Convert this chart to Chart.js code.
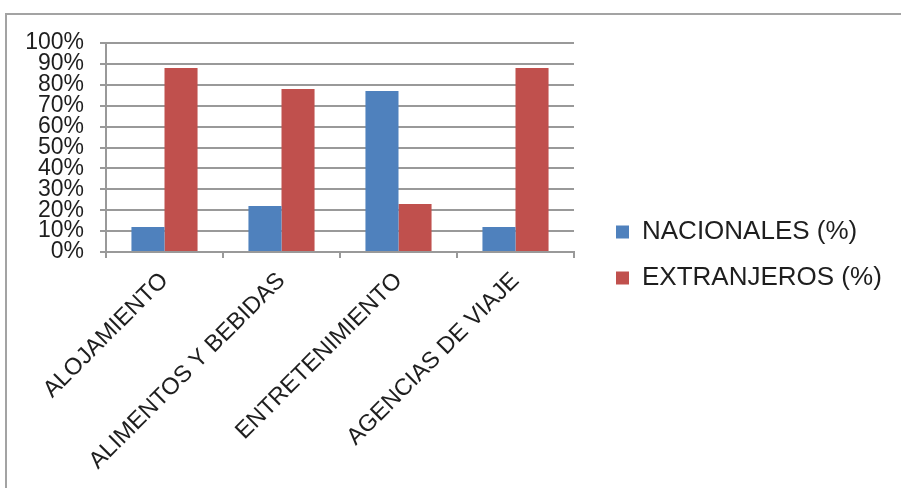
<!DOCTYPE html>
<html>
<head>
<meta charset="utf-8">
<script src="https://cdn.jsdelivr.net/npm/chart.js@4"></script>
<style>
  html, body { margin: 0; padding: 0; background: #ffffff; }
  #wrap { position: relative; width: 901px; height: 488px; overflow: hidden; }
  #frame { position: absolute; left: 5px; top: 13px; width: 910px; height: 500px;
           border-top: 2px solid #a3a3a3; border-left: 2px solid #a3a3a3; pointer-events: none; }
  canvas { position: absolute; left: 0; top: 0; }
</style>
</head>
<body>
<div id="wrap">
  <canvas id="c" width="901" height="488"></canvas>
  <div id="frame"></div>
</div>
<script>
const categories = ["ALOJAMIENTO", "ALIMENTOS Y BEBIDAS", "ENTRETENIMIENTO", "AGENCIAS DE VIAJE"];
const nacionales = [12, 22, 77, 12];
const extranjeros = [88, 78, 23, 88];
const seriesNames = ["NACIONALES (%)", "EXTRANJEROS (%)"];
const yTicks = [0, 10, 20, 30, 40, 50, 60, 70, 80, 90, 100];

const FONT = "'Liberation Sans', Arial, sans-serif";
const GRID = "#999999";
const TEXT = "#1e1e1e";

const legendFix = {
  id: 'legendFix',
  afterInit(chart) {
    const lg = chart.legend;
    const orig = lg.fit.bind(lg);
    lg.fit = function () { orig(); this.width = 327; };
  },
  afterLayout(chart) {
    const lg = chart.legend;
    lg.left = 596;
    lg.top = 199;
  }
};

new Chart(document.getElementById('c'), {
  type: 'bar',
  data: {
    labels: categories,
    datasets: [
      { label: seriesNames[0], data: nacionales, backgroundColor: '#4F81BD',
        categoryPercentage: 0.565, barPercentage: 1.0 },
      { label: seriesNames[1], data: extranjeros, backgroundColor: '#C0504D',
        categoryPercentage: 0.565, barPercentage: 1.0 }
    ]
  },
  options: {
    responsive: false,
    animation: false,
    layout: { padding: { top: 43, left: 0, right: 0, bottom: 0 } },
    plugins: {
      title: { display: false },
      tooltip: { enabled: false },
      legend: {
        position: 'right',
        align: 'start',
        labels: {
          font: { family: FONT, size: 26 },
          color: TEXT,
          boxWidth: 13,
          boxHeight: 13,
          padding: 20
        }
      }
    },
    scales: {
      x: {
        afterFit(s) { s.height = 236; },
        grid: { drawOnChartArea: false, drawTicks: true, tickLength: 6, color: GRID, lineWidth: 2 },
        border: { display: true, color: GRID, width: 2 },
        ticks: {
          maxRotation: 45, minRotation: 45, autoSkip: false,
          font: { family: FONT, size: 23.5 }, color: TEXT,
          labelOffset: 0, padding: 9
        }
      },
      y: {
        min: 0, max: 100,
        afterFit(s) { s.width = 106; },
        afterBuildTicks(s) { s.ticks = yTicks.map(v => ({ value: v })); },
        grid: { color: GRID, lineWidth: 2, drawTicks: true, tickLength: 6 },
        border: { display: true, color: GRID, width: 2 },
        ticks: {
          autoSkip: false,
          font: { family: FONT, size: 23 }, color: TEXT, padding: 16,
          callback: v => v + '%'
        }
      }
    }
  },
  plugins: [legendFix]
});
</script>
</body>
</html>
